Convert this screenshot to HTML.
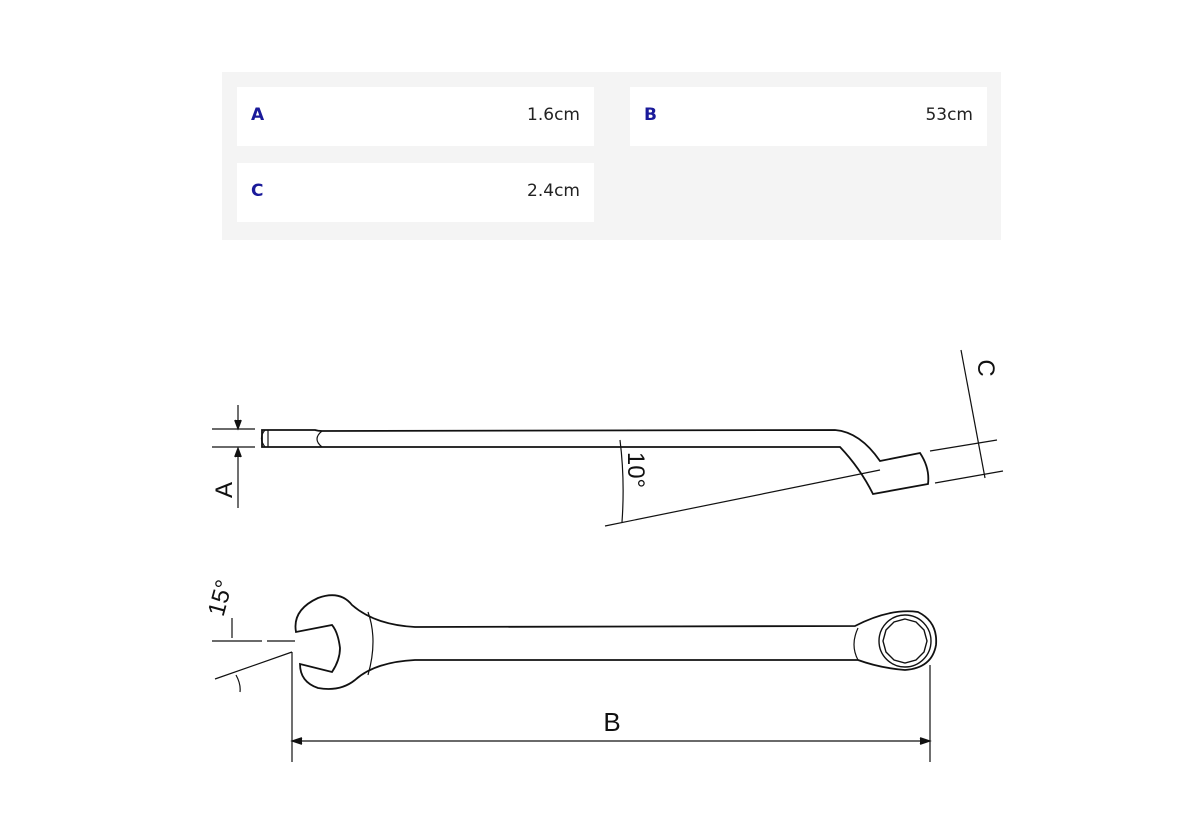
<!DOCTYPE html>
<html><head><meta charset="utf-8"><style>
body{margin:0;width:1200px;height:823px;background:#fff;overflow:hidden;position:relative;font-family:"DejaVu Sans","Liberation Sans",sans-serif}
.panel{position:absolute;left:222px;top:72px;width:779px;height:168px;background:#f4f4f4}
.cell{position:absolute;width:357px;height:59px;background:#fff;font-size:17px;line-height:57px}
.cell b{position:absolute;left:14px;color:#1a1a9a;font-weight:bold}
.cell span{position:absolute;right:14px;color:#222}
svg{position:absolute;left:0;top:0}
</style></head><body>
<div class="panel"></div>
<div class="cell" style="left:237px;top:87px"><b>A</b><span>1.6cm</span></div>
<div class="cell" style="left:630px;top:87px"><b>B</b><span>53cm</span></div>
<div class="cell" style="left:237px;top:163px"><b>C</b><span>2.4cm</span></div>
<svg width="1200" height="823" viewBox="0 0 1200 823" fill="none" stroke="#111" stroke-width="1.8">
<line x1="212" y1="429" x2="255" y2="429" stroke-width="1.2"/>
<line x1="212" y1="447" x2="255" y2="447" stroke-width="1.2"/>
<line x1="238" y1="405" x2="238" y2="427" stroke-width="1.2"/>
<path d="M235 420 L238 428 L241 420" fill="#111"/>
<line x1="238" y1="449" x2="238" y2="508" stroke-width="1.2"/>
<path d="M235 457 L238 449 L241 457" fill="#111"/>
<text x="0" y="0" transform="translate(232,490) rotate(-90)" font-family="Liberation Sans,sans-serif" font-size="24" fill="#111" stroke="none" text-anchor="middle">A</text>
<path d="M262 430 L315 430 Q318 431 322 431 L835 430 Q860 432 880 461 L920 453 Q930 468 928 484 L873 494 Q860 468 840 447 L322 447 Q318 447 315 447 L262 447 Z"/>
<path d="M265 430 Q258 438 265 447 M268 430 L268 447 M322 431 Q312 439 322 447" stroke-width="1.2"/>
<line x1="930" y1="451" x2="997" y2="440" stroke-width="1.2"/>
<line x1="935" y1="483" x2="1003" y2="471" stroke-width="1.2"/>
<line x1="961" y1="350" x2="985" y2="478" stroke-width="1.2"/>
<text x="0" y="0" transform="translate(978,368) rotate(90)" font-family="Liberation Sans,sans-serif" font-size="24" fill="#111" stroke="none" text-anchor="middle">C</text>
<line x1="605" y1="526" x2="880" y2="470" stroke-width="1.2"/>
<path d="M620 440 Q625 480 622 522" stroke-width="1.2"/>
<text x="0" y="0" transform="translate(628,470) rotate(90)" font-family="Liberation Sans,sans-serif" font-size="24" fill="#111" stroke="none" text-anchor="middle">10°</text>
<path d="M296 632 Q292 610 318 598 Q340 590 352 605 Q375 625 415 627 L855 626 Q890 608 918 612 Q938 622 936 645 Q932 668 905 670 Q880 668 858 660 L415 660 Q375 662 355 680 Q340 692 318 688 Q300 682 300 664 L332 672 Q340 660 340 648 Q338 632 332 625 Z"/>
<path d="M368 612 Q378 640 368 675 M858 628 Q850 645 858 660" stroke-width="1.2"/>
<circle cx="905" cy="641" r="26" stroke-width="1.4"/>
<polygon points="905,619 916,622 924,630 927,641 924,652 916,660 905,663 894,660 886,652 883,641 886,630 894,622" stroke-width="1.4"/>
<line x1="212" y1="641" x2="262" y2="641" stroke-width="1.2"/>
<line x1="267" y1="641" x2="295" y2="641" stroke-width="1.2"/>
<line x1="215" y1="679" x2="292" y2="652" stroke-width="1.2"/>
<path d="M232 618 L232 638 M236 675 Q241 684 240 692" stroke-width="1.2"/>
<text x="0" y="0" transform="translate(228,600) rotate(-75)" font-family="Liberation Sans,sans-serif" font-size="24" fill="#111" stroke="none" text-anchor="middle">15°</text>
<line x1="292" y1="652" x2="292" y2="762" stroke-width="1.2"/>
<line x1="930" y1="665" x2="930" y2="762" stroke-width="1.2"/>
<line x1="294" y1="741" x2="928" y2="741" stroke-width="1.2"/>
<path d="M302 738 L293 741 L302 744 M920 738 L929 741 L920 744" fill="#111"/>
<text x="612" y="731" font-family="Liberation Sans,sans-serif" font-size="26" fill="#111" stroke="none" text-anchor="middle">B</text>
</svg>
</body></html>
